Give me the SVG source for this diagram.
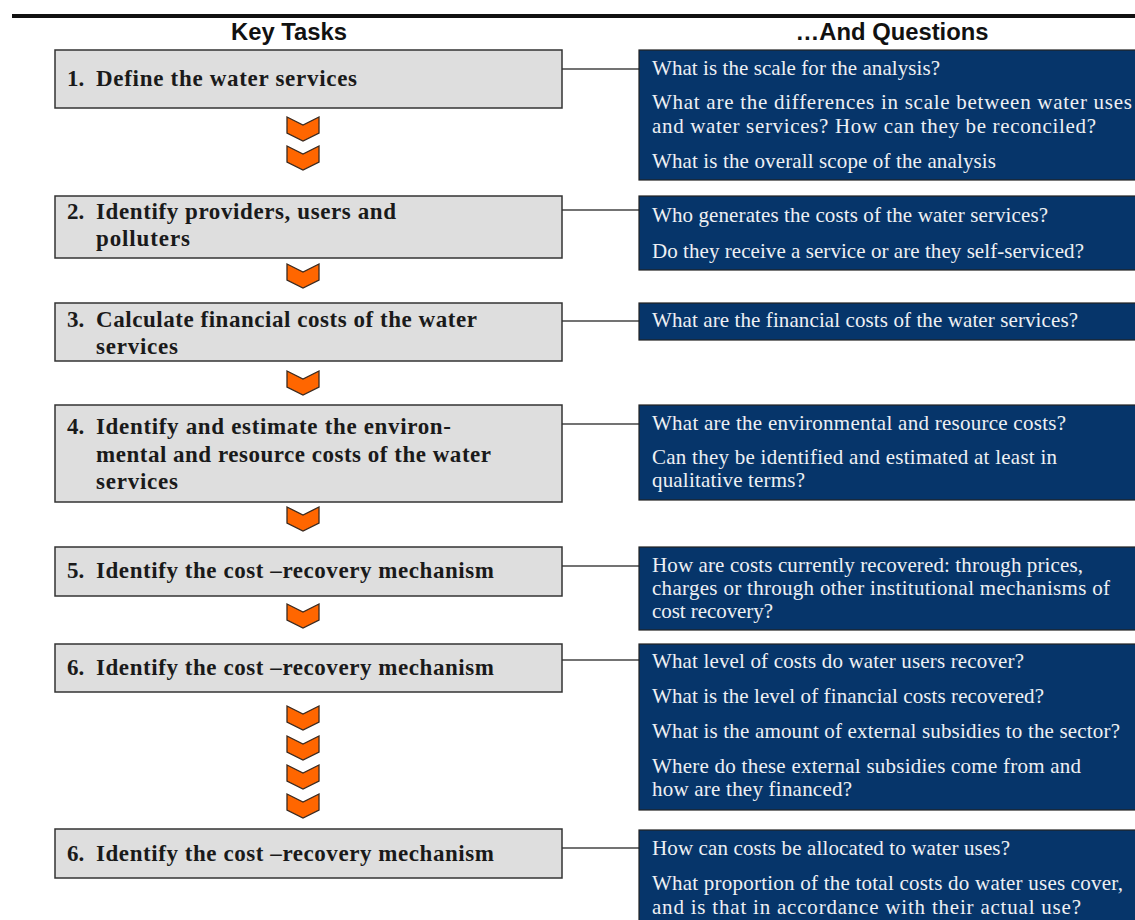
<svg xmlns="http://www.w3.org/2000/svg" width="1135" height="920" viewBox="0 0 1135 920">
  <style>
    .head { font-family: "Liberation Sans", Arial, sans-serif; font-weight: bold; font-size: 23px; fill: #111; text-anchor: middle; }
    .task { fill: #dedede; stroke: #333; stroke-width: 1.5; }
    .task-text { font-family: "Liberation Serif", "Times New Roman", serif; font-weight: bold; font-size: 23px; fill: #1a1a1a; }
    .quest { fill: #06356a; stroke: #222; stroke-width: 1.2; }
    .quest-text { font-family: "Liberation Serif", "Times New Roman", serif; font-size: 21px; fill: #eef0f4; }
    .link { stroke: #444; stroke-width: 1.5; fill: none; }
    .chev { fill: #ff6600; stroke: #3a2a20; stroke-width: 1.3; stroke-linejoin: miter; }
  </style>
  <defs>
    <polygon id="chevron" class="chev" points="0,0 16,8 32,0 32,16 16,24 0,16"/>
  </defs>

  <rect width="1135" height="920" fill="#fff"/>
  <!-- top rule -->
  <rect x="12" y="14" width="1123" height="4" fill="#111"/>

  <text class="head" x="289" y="40" textLength="116" lengthAdjust="spacingAndGlyphs">Key Tasks</text>
  <text class="head" x="892" y="40" textLength="193" lengthAdjust="spacingAndGlyphs">…And Questions</text>

  <!-- connectors -->
  <g id="connectors">
    <line class="link" x1="562" y1="69" x2="639" y2="69"/>
    <line class="link" x1="562" y1="210" x2="639" y2="210"/>
    <line class="link" x1="562" y1="321" x2="639" y2="321"/>
    <line class="link" x1="562" y1="424" x2="639" y2="424"/>
    <line class="link" x1="562" y1="566" x2="639" y2="566"/>
    <line class="link" x1="562" y1="660" x2="639" y2="660"/>
    <line class="link" x1="562" y1="848" x2="639" y2="848"/>
  </g>

  <!-- flow arrows -->
  <g id="arrows">
    <use href="#chevron" x="287" y="117"/>
    <use href="#chevron" x="287" y="146"/>
    <use href="#chevron" x="287" y="264"/>
    <use href="#chevron" x="287" y="371"/>
    <use href="#chevron" x="287" y="507"/>
    <use href="#chevron" x="287" y="604"/>
    <use href="#chevron" x="287" y="706"/>
    <use href="#chevron" x="287" y="736"/>
    <use href="#chevron" x="287" y="765"/>
    <use href="#chevron" x="287" y="794"/>
  </g>

  <!-- task boxes -->
  <g id="task1">
    <rect class="task" x="55" y="50" width="507" height="58"/>
    <text class="task-text" x="67" y="86">1.</text>
    <text class="task-text" x="96" y="86" textLength="261">Define the water services</text>
  </g>
  <g id="task2">
    <rect class="task" x="55" y="196" width="507" height="62"/>
    <text class="task-text" x="67" y="219">2.</text>
    <text class="task-text" x="96" y="219" textLength="300">Identify providers, users and</text>
    <text class="task-text" x="96" y="246" textLength="94">polluters</text>
  </g>
  <g id="task3">
    <rect class="task" x="55" y="303" width="507" height="58"/>
    <text class="task-text" x="67" y="327">3.</text>
    <text class="task-text" x="96" y="327" textLength="381">Calculate financial costs of the water</text>
    <text class="task-text" x="96" y="354" textLength="82">services</text>
  </g>
  <g id="task4">
    <rect class="task" x="55" y="405" width="507" height="97"/>
    <text class="task-text" x="67" y="434">4.</text>
    <text class="task-text" x="96" y="434" textLength="355">Identify and estimate the environ-</text>
    <text class="task-text" x="96" y="462" textLength="395">mental and resource costs of the water</text>
    <text class="task-text" x="96" y="489" textLength="82">services</text>
  </g>
  <g id="task5">
    <rect class="task" x="55" y="547" width="507" height="49"/>
    <text class="task-text" x="67" y="578">5.</text>
    <text class="task-text" x="96" y="578" textLength="398">Identify the cost –recovery mechanism</text>
  </g>
  <g id="task6">
    <rect class="task" x="55" y="644" width="507" height="48"/>
    <text class="task-text" x="67" y="675">6.</text>
    <text class="task-text" x="96" y="675" textLength="398">Identify the cost –recovery mechanism</text>
  </g>
  <g id="task7">
    <rect class="task" x="55" y="829" width="507" height="49"/>
    <text class="task-text" x="67" y="861">6.</text>
    <text class="task-text" x="96" y="861" textLength="398">Identify the cost –recovery mechanism</text>
  </g>

  <!-- question boxes -->
  <g id="questions1">
    <rect class="quest" x="639" y="50" width="500" height="130"/>
    <text class="quest-text" x="652" y="75" textLength="288">What is the scale for the analysis?</text>
    <text class="quest-text" x="652" y="109" textLength="480">What are the differences in scale between water uses</text>
    <text class="quest-text" x="652" y="133" textLength="444">and water services? How can they be reconciled?</text>
    <text class="quest-text" x="652" y="168" textLength="344">What is the overall scope of the analysis</text>
  </g>
  <g id="questions2">
    <rect class="quest" x="639" y="196" width="500" height="74"/>
    <text class="quest-text" x="652" y="222" textLength="396">Who generates the costs of the water services?</text>
    <text class="quest-text" x="652" y="258" textLength="432">Do they receive a service or are they self-serviced?</text>
  </g>
  <g id="questions3">
    <rect class="quest" x="639" y="303" width="500" height="37"/>
    <text class="quest-text" x="652" y="327" textLength="426">What are the financial costs of the water services?</text>
  </g>
  <g id="questions4">
    <rect class="quest" x="639" y="405" width="500" height="95"/>
    <text class="quest-text" x="652" y="430" textLength="414">What are the environmental and resource costs?</text>
    <text class="quest-text" x="652" y="464" textLength="405">Can they be identified and estimated at least in</text>
    <text class="quest-text" x="652" y="487" textLength="153">qualitative terms?</text>
  </g>
  <g id="questions5">
    <rect class="quest" x="639" y="547" width="500" height="83"/>
    <text class="quest-text" x="652" y="572" textLength="431">How are costs currently recovered: through prices,</text>
    <text class="quest-text" x="652" y="595" textLength="458">charges or through other institutional mechanisms of</text>
    <text class="quest-text" x="652" y="618" textLength="121">cost recovery?</text>
  </g>
  <g id="questions6">
    <rect class="quest" x="639" y="644" width="500" height="166"/>
    <text class="quest-text" x="652" y="668" textLength="372">What level of costs do water users recover?</text>
    <text class="quest-text" x="652" y="703" textLength="392">What is the level of financial costs recovered?</text>
    <text class="quest-text" x="652" y="738" textLength="468">What is the amount of external subsidies to the sector?</text>
    <text class="quest-text" x="652" y="773" textLength="429">Where do these external subsidies come from and</text>
    <text class="quest-text" x="652" y="796" textLength="200">how are they financed?</text>
  </g>
  <g id="questions7">
    <rect class="quest" x="639" y="830" width="500" height="100"/>
    <text class="quest-text" x="652" y="855" textLength="358">How can costs be allocated to water uses?</text>
    <text class="quest-text" x="652" y="890" textLength="471">What proportion of the total costs do water uses cover,</text>
    <text class="quest-text" x="652" y="914" textLength="429">and is that in accordance with their actual use?</text>
  </g>
</svg>
